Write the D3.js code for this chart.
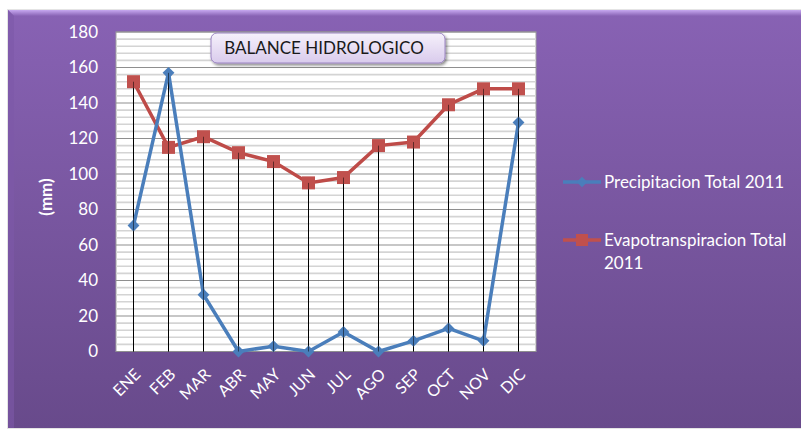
<!DOCTYPE html>
<html>
<head>
<meta charset="utf-8">
<script src="https://cdn.jsdelivr.net/npm/d3@7"></script>
<style>
  body { margin: 0; background: #fff; }
  svg { display: block; font-family: Lato, "Open Sans", sans-serif; }
</style>
</head>
<body>
<div id="chart"></div>
<script>
// data
var months = ["ENE","FEB","MAR","ABR","MAY","JUN","JUL","AGO","SEP","OCT","NOV","DIC"];
var precipitacion = [71, 157, 32, 0, 3, 0, 11, 0, 6, 13, 6, 129];
var evapotranspiracion = [152, 115, 121, 112, 107, 95, 98, 116, 118, 139, 148, 148];
var yTicks = [0, 20, 40, 60, 80, 100, 120, 140, 160, 180];
var seriesNames = ["Precipitacion Total 2011", "Evapotranspiracion Total 2011"];

var width = 801, height = 431;
var plot = {l: 116, r: 536, t: 32, b: 351.5};

var svg = d3.select("#chart").append("svg")
    .attr("width", width)
    .attr("height", height);

var defs = svg.append("defs");

var bg = defs.append("linearGradient").attr("id", "bg")
    .attr("x1", 0).attr("y1", 0).attr("x2", 0).attr("y2", 1);
bg.append("stop").attr("offset", "0%").attr("stop-color", "#8862b4");
bg.append("stop").attr("offset", "100%").attr("stop-color", "#684a8b");

var bevel = defs.append("linearGradient").attr("id", "bevel")
    .attr("x1", 0).attr("y1", 0).attr("x2", 0).attr("y2", 1);
bevel.append("stop").attr("offset", "0%").attr("stop-color", "#c7a8f0");
bevel.append("stop").attr("offset", "100%").attr("stop-color", "#8862b4");

var titleGrad = defs.append("linearGradient").attr("id", "titleGrad")
    .attr("x1", 0).attr("y1", 0).attr("x2", 0).attr("y2", 1);
titleGrad.append("stop").attr("offset", "0%").attr("stop-color", "#f6f1fb");
titleGrad.append("stop").attr("offset", "100%").attr("stop-color", "#d9cbec");

var shadow = defs.append("filter").attr("id", "shadow")
    .attr("x", "-10%").attr("y", "-30%").attr("width", "130%").attr("height", "180%");
shadow.append("feDropShadow").attr("dx", 1.5).attr("dy", 2)
    .attr("stdDeviation", 1.5).attr("flood-color", "#000").attr("flood-opacity", 0.45);

// frame
svg.append("rect").attr("x", 7).attr("y", 9).attr("width", width).attr("height", 420)
    .attr("fill", "#e4e4e4");
svg.append("rect").attr("x", 8).attr("y", 10).attr("width", width).attr("height", 418)
    .attr("fill", "url(#bg)");
svg.append("path")
    .attr("d", "M8,10 L" + width + ",10 L" + width + ",16 L14,16 Z")
    .attr("fill", "url(#bevel)");
svg.append("path")
    .attr("d", "M8,10 L14,16 L14,428 L8,428 Z")
    .attr("fill", "#7d58a8").attr("opacity", 0.6);

var x = d3.scaleBand().domain(months).range([plot.l, plot.r]);
var y = d3.scaleLinear().domain([0, 180]).range([plot.b, plot.t]);

// plot area
svg.append("rect")
    .attr("x", plot.l).attr("y", plot.t)
    .attr("width", plot.r - plot.l).attr("height", plot.b - plot.t)
    .attr("fill", "#fff").attr("stroke", "#a0a0a0");

var minor = d3.range(0, 181, 4).filter(function (d) { return d % 20 !== 0; });
svg.append("g").selectAll("line").data(minor).enter().append("line")
    .attr("x1", plot.l).attr("x2", plot.r)
    .attr("y1", function (d) { return y(d); }).attr("y2", function (d) { return y(d); })
    .attr("stroke", "#d4d4d4").attr("stroke-width", 1.6);

svg.append("g").selectAll("line").data(yTicks).enter().append("line")
    .attr("x1", plot.l).attr("x2", plot.r)
    .attr("y1", function (d) { return y(d); }).attr("y2", function (d) { return y(d); })
    .attr("stroke", "#8f8f8f").attr("stroke-width", 1);

// y axis
var yAxis = svg.append("g")
    .attr("transform", "translate(" + plot.l + ",0)")
    .call(d3.axisLeft(y).tickValues(yTicks).tickSize(0).tickPadding(18));
yAxis.select(".domain").remove();
yAxis.selectAll("text")
    .attr("fill", "#fff")
    .style("font-size", "17px")
    .style("font-family", "Lato, sans-serif");

svg.append("text")
    .attr("transform", "translate(52,197) rotate(-90)")
    .attr("text-anchor", "middle")
    .attr("fill", "#fff")
    .style("font-size", "17px")
    .style("font-weight", "bold")
    .text("(mm)");

// x axis labels
var xAxis = svg.append("g")
    .attr("transform", "translate(0," + plot.b + ")")
    .call(d3.axisBottom(x).tickSize(0).tickPadding(0));
xAxis.select(".domain").remove();
xAxis.selectAll("text")
    .attr("fill", "#fff")
    .style("font-size", "16px")
    .style("font-family", "Lato, sans-serif")
    .attr("text-anchor", "end")
    .attr("dy", null)
    .attr("y", 0)
    .attr("transform", "translate(8,24) rotate(-45)");

// drop lines
svg.append("g").selectAll("line").data(months).enter().append("line")
    .attr("x1", function (d) { return x(d) + x.bandwidth() / 2; })
    .attr("x2", function (d) { return x(d) + x.bandwidth() / 2; })
    .attr("y1", function (d, i) { return y(Math.max(precipitacion[i], evapotranspiracion[i])); })
    .attr("y2", y(0))
    .attr("stroke", "#000").attr("stroke-width", 1);

var line = d3.line()
    .x(function (d, i) { return x(months[i]) + x.bandwidth() / 2; })
    .y(function (d) { return y(d); });

var diamond = d3.symbol().type(d3.symbolDiamond2).size(90);

// evapotranspiracion series
svg.append("path").datum(evapotranspiracion)
    .attr("d", line).attr("fill", "none")
    .attr("stroke", "#be4b48").attr("stroke-width", 3.5);
svg.append("g").selectAll("rect").data(evapotranspiracion).enter().append("rect")
    .attr("x", function (d, i) { return x(months[i]) + x.bandwidth() / 2 - 6.5; })
    .attr("y", function (d) { return y(d) - 6.5; })
    .attr("width", 13).attr("height", 13)
    .attr("fill", "#c0504d");

// precipitacion series
svg.append("path").datum(precipitacion)
    .attr("d", line).attr("fill", "none")
    .attr("stroke", "#4a7ebb").attr("stroke-width", 3.5);
svg.append("g").selectAll("path").data(precipitacion).enter().append("path")
    .attr("d", diamond)
    .attr("transform", function (d, i) {
        return "translate(" + (x(months[i]) + x.bandwidth() / 2) + "," + y(d) + ")";
    })
    .attr("fill", "#4a7ebb");

// drop lines again over markers (they show through)
svg.append("g").selectAll("line").data(months).enter().append("line")
    .attr("x1", function (d) { return x(d) + x.bandwidth() / 2; })
    .attr("x2", function (d) { return x(d) + x.bandwidth() / 2; })
    .attr("y1", function (d, i) { return y(Math.max(precipitacion[i], evapotranspiracion[i])); })
    .attr("y2", y(0))
    .attr("stroke", "#000").attr("stroke-width", 1).attr("opacity", 0.5);

// title box
svg.append("rect")
    .attr("x", 211).attr("y", 33).attr("width", 234).attr("height", 30)
    .attr("rx", 6).attr("ry", 6)
    .attr("fill", "url(#titleGrad)")
    .attr("stroke", "#9b84c2").attr("stroke-width", 1)
    .attr("filter", "url(#shadow)");
svg.append("text")
    .attr("x", 324).attr("y", 54)
    .attr("text-anchor", "middle")
    .attr("fill", "#1a1a1a")
    .style("font-size", "17px")
    .text("BALANCE HIDROLOGICO");

// legend
var legend = svg.append("g").attr("transform", "translate(563,0)");
var legendY = [182, 240];
var legendColors = ["#4a7ebb", "#c0504d"];

legend.selectAll("line").data(seriesNames).enter().append("line")
    .attr("x1", 0).attr("x2", 38)
    .attr("y1", function (d, i) { return legendY[i]; })
    .attr("y2", function (d, i) { return legendY[i]; })
    .attr("stroke", function (d, i) { return legendColors[i]; })
    .attr("stroke-width", 3.5);

legend.append("path").attr("d", d3.symbol().type(d3.symbolDiamond2).size(70))
    .attr("transform", "translate(19," + legendY[0] + ")")
    .attr("fill", legendColors[0]);
legend.append("rect")
    .attr("x", 13).attr("y", legendY[1] - 6).attr("width", 12).attr("height", 12)
    .attr("fill", legendColors[1]);

legend.append("text")
    .attr("x", 41).attr("y", legendY[0] + 6)
    .attr("fill", "#fff").style("font-size", "17px")
    .text(seriesNames[0]);

var t2 = legend.append("text")
    .attr("x", 41).attr("y", legendY[1] + 6)
    .attr("fill", "#fff").style("font-size", "17px");
t2.append("tspan").attr("x", 41).text("Evapotranspiracion Total");
t2.append("tspan").attr("x", 41).attr("dy", 23).text("2011");
</script>
</body>
</html>
